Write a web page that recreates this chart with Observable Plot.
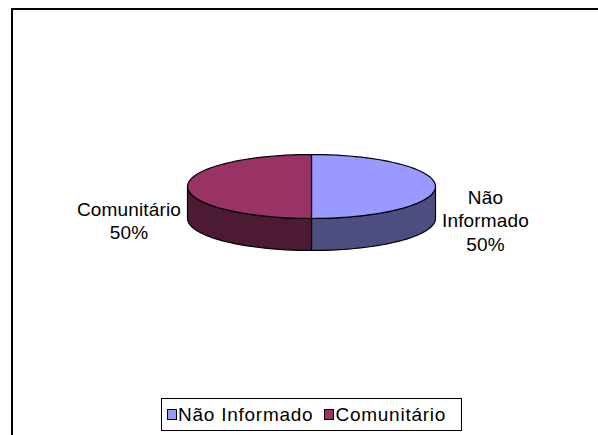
<!DOCTYPE html>
<html>
<head>
<meta charset="utf-8">
<script src="https://cdn.jsdelivr.net/npm/d3@7"></script>
<script src="https://cdn.jsdelivr.net/npm/@observablehq/plot@0.6"></script>
<style>
  html, body { margin: 0; padding: 0; background: #fff; }
  #wrap { position: relative; width: 598px; height: 435px; overflow: hidden; font-family: "Liberation Sans", Arial, sans-serif; }
  #frame { position: absolute; left: 11px; top: 8px; width: 700px; height: 600px; border-left: 2px solid #000; border-top: 2px solid #000; box-sizing: border-box; }
  #chart { position: absolute; left: 0; top: 0; }
  #legend { position: absolute; left: 161px; top: 398px; width: 301px; height: 33px; border: 1px solid #000; box-sizing: border-box; display: flex; align-items: center; padding-left: 5px; font-size: 19px; letter-spacing: 0.75px; color: #000; white-space: nowrap; }
  .sw { display: inline-block; width: 8px; height: 9px; border: 1px solid #000; margin-right: 1px; }
  .item { display: inline-flex; align-items: center; margin-right: 11px; }
</style>
</head>
<body>
<div id="wrap">
  <div id="frame"></div>
  <div id="chart"></div>
  <div id="legend"></div>
</div>
<script>
const categories = ["Não Informado", "Comunitário"];
const values = [50, 50];
const topColors = ["#9999FF", "#993366"];
const sideColors = ["#4D4D80", "#4D1A33"];

const FONT = "'Liberation Sans', Arial, sans-serif";
const LABEL_SIZE = 19;
const LABEL_SPACING = 0.15;

const xOpts = {domain: [-1, 1], range: [187, 435]};
const yOpts = {domain: [-1, 2], range: [154, 250]};
const xScale = Plot.scale({x: xOpts});

const pie = d3.pie().sort(null).startAngle(0).endAngle(2 * Math.PI)(values);
const depth = 1;
const total = d3.sum(values);
const N = 120;

function arcPts(a0, a1, dy) {
  const pts = [];
  const n = Math.max(2, Math.ceil(N * (a1 - a0) / (2 * Math.PI)));
  for (let i = 0; i <= n; i++) {
    const a = a0 + (a1 - a0) * i / n;
    pts.push({x: Math.sin(a), y: -Math.cos(a) + dy});
  }
  return pts;
}

const ctx = document.createElement("canvas").getContext("2d");
ctx.font = LABEL_SIZE + "px " + FONT;
function textWidth(s) { return ctx.measureText(s).width + LABEL_SPACING * s.length; }

const marks = [];
// side faces (front half only)
pie.forEach((p, i) => {
  const a0 = Math.max(p.startAngle, Math.PI / 2);
  const a1 = Math.min(p.endAngle, 3 * Math.PI / 2);
  if (a0 < a1) {
    const pts = arcPts(a0, a1, 0).concat(arcPts(a0, a1, depth).reverse());
    marks.push(Plot.line(pts, {x: "x", y: "y", fill: sideColors[i], stroke: "#000", strokeWidth: 1.2, curve: "linear-closed"}));
  }
});
// top faces
pie.forEach((p, i) => {
  const pts = [{x: 0, y: 0}].concat(arcPts(p.startAngle, p.endAngle, 0));
  marks.push(Plot.line(pts, {x: "x", y: "y", fill: topColors[i], stroke: "#000", strokeWidth: 1.2, curve: "linear-closed"}));
});
// labels placed just outside the pie edge, block centred
const labels = pie.map((p, i) => {
  const mid = (p.startAngle + p.endAngle) / 2;
  const text = categories[i].split(" ").join("\n") + "\n" + Math.round(100 * values[i] / total) + "%";
  const w = d3.max(text.split("\n"), textWidth);
  const side = Math.sign(Math.sin(mid)) || 1;
  const edge = xScale.apply(Math.sin(mid));
  const cx = edge + side * (6.5 + w / 2);
  return {x: xScale.invert(cx), y: -Math.cos(mid) * 0.5 + 1.045, text};
});
marks.push(Plot.text(labels, {x: "x", y: "y", text: "text", textAnchor: "middle", lineAnchor: "middle", lineHeight: 1.24, fontSize: LABEL_SIZE, fill: "#000", fontFamily: FONT}));

const chart = Plot.plot({
  width: 598,
  height: 435,
  margin: 0,
  style: {background: "transparent", overflow: "visible"},
  x: {...xOpts, axis: null},
  y: {...yOpts, axis: null},
  marks
});
chart.style.letterSpacing = LABEL_SPACING + "px";
document.getElementById("chart").appendChild(chart);

const legend = document.getElementById("legend");
categories.forEach((c, i) => {
  const item = document.createElement("span");
  item.className = "item";
  const sw = document.createElement("span");
  sw.className = "sw";
  sw.style.background = topColors[i];
  item.appendChild(sw);
  item.appendChild(document.createTextNode(c));
  legend.appendChild(item);
});
</script>
</body>
</html>
